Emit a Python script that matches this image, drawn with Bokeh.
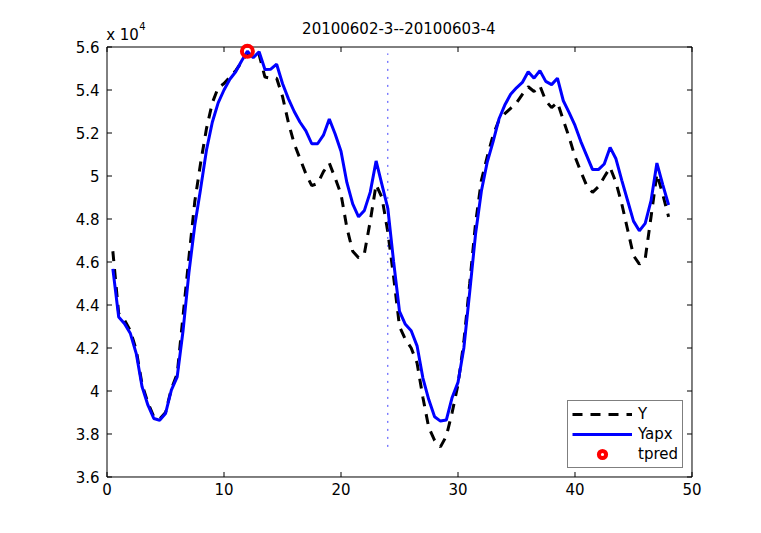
from bokeh.plotting import figure
from bokeh.models import (Range1d, FixedTicker, Label, Legend, LegendItem,
                          CustomJSTickFormatter)
from bokeh.embed import file_html
from bokeh.resources import INLINE

# ---------------- data (values in units of 10^4) ----------------
hours = [0.5, 1.0, 1.5, 2.0, 2.5, 3.0, 3.5, 4.0, 4.5, 5.0, 5.5, 6.0,
         6.5, 7.0, 7.5, 8.0, 8.5, 9.0, 9.5, 10.0, 10.5, 11.0, 11.5, 12.0,
         12.5, 13.0, 13.5, 14.0, 14.5, 15.0, 15.5, 16.0, 16.5, 17.0, 17.5, 18.0,
         18.5, 19.0, 19.5, 20.0, 20.5, 21.0, 21.5, 22.0, 22.5, 23.0, 23.5, 24.0,
         24.5, 25.0, 25.5, 26.0, 26.5, 27.0, 27.5, 28.0, 28.5, 29.0, 29.5, 30.0,
         30.5, 31.0, 31.5, 32.0, 32.5, 33.0, 33.5, 34.0, 34.5, 35.0, 35.5, 36.0,
         36.5, 37.0, 37.5, 38.0, 38.5, 39.0, 39.5, 40.0, 40.5, 41.0, 41.5, 42.0,
         42.5, 43.0, 43.5, 44.0, 44.5, 45.0, 45.5, 46.0, 46.5, 47.0, 47.5, 48.0]

Y = [4.65, 4.36, 4.33, 4.28, 4.19, 4.03, 3.945, 3.88, 3.87, 3.90, 4.01, 4.08,
     4.35, 4.62, 4.88, 5.06, 5.22, 5.34, 5.41, 5.43, 5.46, 5.49, 5.53, 5.57,
     5.55, 5.565, 5.46, 5.455, 5.455, 5.37, 5.25, 5.15, 5.08, 5.01, 4.955, 4.965,
     5.02, 5.06, 4.99, 4.916, 4.76, 4.65, 4.62, 4.64, 4.79, 4.96, 4.90, 4.74,
     4.53, 4.30, 4.24, 4.20, 4.13, 3.97, 3.83, 3.77, 3.74, 3.79, 3.90, 4.03,
     4.23, 4.50, 4.78, 4.98, 5.09, 5.19, 5.26, 5.29, 5.315, 5.34, 5.38, 5.415,
     5.393, 5.42, 5.35, 5.318, 5.342, 5.26, 5.18, 5.09, 5.02, 4.955, 4.924, 4.95,
     4.995, 5.04, 4.97, 4.87, 4.75, 4.63, 4.59, 4.615, 4.81, 5.01, 4.915, 4.81]

Yapx = [4.568, 4.344, 4.313, 4.267, 4.174, 4.019, 3.934, 3.872, 3.864, 3.895, 4.004, 4.066,
        4.28, 4.55, 4.77, 4.94, 5.12, 5.25, 5.34, 5.40, 5.45, 5.485, 5.535, 5.58,
        5.55, 5.578, 5.495, 5.497, 5.52, 5.43, 5.36, 5.30, 5.25, 5.21, 5.15, 5.15,
        5.19, 5.265, 5.195, 5.115, 4.97, 4.87, 4.81, 4.84, 4.925, 5.07, 4.96, 4.85,
        4.60, 4.37, 4.31, 4.28, 4.21, 4.06, 3.96, 3.88, 3.86, 3.865, 3.97, 4.04,
        4.20, 4.46, 4.73, 4.93, 5.065, 5.16, 5.265, 5.33, 5.38, 5.41, 5.435, 5.485,
        5.455, 5.49, 5.44, 5.425, 5.455, 5.35, 5.295, 5.235, 5.16, 5.095, 5.03, 5.03,
        5.056, 5.133, 5.08, 4.98, 4.885, 4.79, 4.745, 4.78, 4.885, 5.06, 4.96, 4.865]

tpred_x = [12.0]
tpred_y = [5.58]
split_x = 24.0

x_lim = [0, 50]
y_lim = [3.6, 5.6]
x_ticks = [0, 10, 20, 30, 40, 50]
y_ticks = [3.6, 3.8, 4.0, 4.2, 4.4, 4.6, 4.8, 5.0, 5.2, 5.4, 5.6]
y_tick_labels = ["3.6", "3.8", "4", "4.2", "4.4", "4.6", "4.8", "5", "5.2", "5.4", "5.6"]

title_text = "20100602-3--20100603-4"
FONT = "DejaVu Sans"

# The view is a little larger than the axes box (and reaches the top of the
# page) so that the box, its ticks, the title and the exponent are all drawn
# inside the frame.
X_VIEW = (-0.12821, 50.12821)
Y_VIEW = (3.593023, 5.81628)
TICK_LEN_Y = 0.02326       # 5 px in y data units
TICK_LEN_X = 0.4274        # 5 px in x data units

# ---------------- figure ----------------
p = figure(width=761, height=533, output_backend="svg", toolbar_location=None,
           title_location=None,
           x_range=Range1d(*X_VIEW), y_range=Range1d(*Y_VIEW),
           min_border_left=105, min_border_right=68, min_border_top=0, min_border_bottom=55)
p.xgrid.visible = False
p.ygrid.visible = False
p.background_fill_color = "white"
p.border_fill_color = "white"
p.outline_line_color = None

ylab_fmt = CustomJSTickFormatter(args=dict(yt=y_ticks, yl=y_tick_labels),
    code="const i = yt.findIndex(t => Math.abs(t - tick) < 1e-9); return i >= 0 ? yl[i] : '';")

def style(ax, ticks, fmt=None, standoff=6):
    ax.ticker = FixedTicker(ticks=ticks)
    ax.major_tick_in = 0
    ax.major_tick_out = 0
    ax.minor_tick_in = 0
    ax.minor_tick_out = 0
    ax.axis_line_color = None
    ax.major_tick_line_color = None
    ax.major_label_text_font = FONT
    ax.major_label_text_font_size = "15px"
    ax.major_label_text_color = "black"
    ax.major_label_standoff = standoff
    if fmt is not None:
        ax.formatter = fmt

style(p.below[0], x_ticks, standoff=4)
style(p.left[0], y_ticks, ylab_fmt, standoff=6)

# axes box
p.line(x=[x_lim[0], x_lim[1], x_lim[1], x_lim[0], x_lim[0]],
       y=[y_lim[0], y_lim[0], y_lim[1], y_lim[1], y_lim[0]],
       line_color="black", line_width=1, line_join="miter")
# inward ticks on all four sides
tick_xs = ([[t, t] for t in x_ticks] + [[t, t] for t in x_ticks] +
           [[x_lim[0], x_lim[0] + TICK_LEN_X] for v in y_ticks] +
           [[x_lim[1], x_lim[1] - TICK_LEN_X] for v in y_ticks])
tick_ys = ([[y_lim[0], y_lim[0] + TICK_LEN_Y] for t in x_ticks] +
           [[y_lim[1], y_lim[1] - TICK_LEN_Y] for t in x_ticks] +
           [[v, v] for v in y_ticks] + [[v, v] for v in y_ticks])
p.multi_line(xs=tick_xs, ys=tick_ys, line_color="black", line_width=1)

# ---------------- glyphs ----------------
r_y = p.line(hours, Y, line_color="black", line_width=3, line_dash="10 8")
r_apx = p.line(hours, Yapx, line_color="#0000ff", line_width=3)
p.segment(x0=[split_x], y0=[min(Y)], x1=[split_x], y1=[max(Y)],
          line_color="#0000ff", line_width=1, line_dash="2 6", line_alpha=0.75)
r_t = p.scatter(tpred_x, tpred_y, marker="circle", size=11, line_color="#ff0000",
                line_width=4, fill_alpha=0)

# ---------------- legend ----------------
legend = Legend(items=[LegendItem(label="Y", renderers=[r_y]),
                       LegendItem(label="Yapx", renderers=[r_apx]),
                       LegendItem(label="tpred", renderers=[r_t])],
                location="bottom_right")
legend.border_line_color = "black"
legend.border_line_width = 1
legend.background_fill_color = "white"
legend.background_fill_alpha = 1
legend.padding = 4
legend.spacing = 2
legend.margin = 10
legend.glyph_width = 60
legend.glyph_height = 18
legend.label_height = 18
legend.label_standoff = 6
legend.label_text_font = FONT
legend.label_text_font_size = "15px"
legend.label_text_color = "black"
p.add_layout(legend)

# ---------------- texts ----------------
p.add_layout(Label(x=24.94, y=5.6884, text=title_text, text_align="center",
                   text_baseline="middle", text_font=FONT,
                   text_font_size="15px", text_color="black"))
p.add_layout(Label(x=-0.07, y=5.6567, text="x 10", text_align="left",
                   text_baseline="middle", text_font=FONT,
                   text_font_size="15px", text_color="black"))
p.add_layout(Label(x=2.75, y=5.7000, text="4", text_align="left",
                   text_baseline="middle", text_font=FONT,
                   text_font_size="10px", text_color="black"))

open("out.html", "w").write(file_html(p, INLINE))
